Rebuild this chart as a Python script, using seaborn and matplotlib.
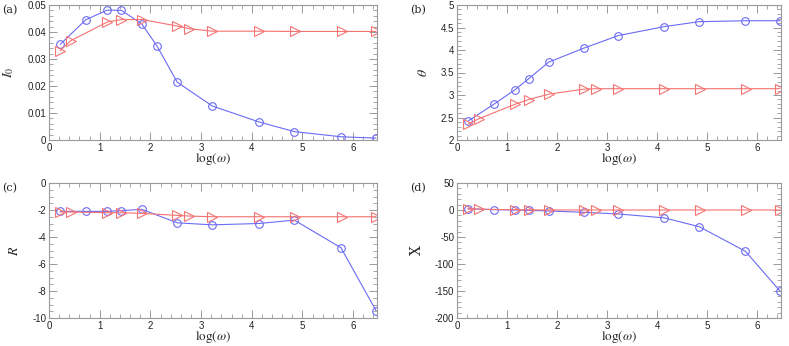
"""Four-panel plot of I0, theta, R and X against log(omega)."""

import matplotlib
matplotlib.use("Agg")
import matplotlib.pyplot as plt
import seaborn as sns
from matplotlib.ticker import AutoMinorLocator, FormatStrFormatter, MultipleLocator

# x positions (log omega)
x_blue = [0.22, 0.73, 1.15, 1.43, 1.83, 2.13, 2.53, 3.22, 4.14, 4.84, 5.76, 6.45]
x_blue_b = [0.22, 0.73, 1.15, 1.43, 1.83, 2.53, 3.22, 4.14, 4.84, 5.76, 6.45]
x_red = [0.22, 0.43, 1.15, 1.43, 1.84, 2.53, 2.77, 3.22, 4.14, 4.85, 5.77, 6.45]

# panel (a) I0
i0_blue = [0.0354, 0.0446, 0.0481, 0.0480, 0.0430, 0.0348, 0.0214, 0.0126,
           0.0067, 0.0031, 0.0012, 0.0007]
i0_red = [0.0331, 0.0368, 0.0437, 0.0446, 0.0446, 0.0422, 0.0412, 0.0403,
          0.0403, 0.0402, 0.0402, 0.0402]

# panel (b) theta
th_blue = [2.42, 2.79, 3.11, 3.36, 3.73, 4.04, 4.32, 4.52, 4.63, 4.65, 4.65]
th_red = [2.35, 2.47, 2.79, 2.90, 3.02, 3.13, 3.14, 3.14, 3.14, 3.14, 3.14, 3.14]

# panel (c) R
r_blue = [-2.1, -2.1, -2.1, -2.05, -1.95, -2.95, -3.1, -3.0, -2.75, -4.8, -9.45]
r_red = [-2.15, -2.15, -2.2, -2.2, -2.25, -2.4, -2.45, -2.5, -2.5, -2.5, -2.5, -2.5]

# panel (d) X
xx_blue = [2.4, 0.6, 0.0, -0.6, -1.8, -4.3, -7.3, -14.6, -31.0, -76.5, -150.0]
xx_red = [2.0, 1.5, 0.5, 0.3, 0.1, 0.0, 0.0, 0.0, 0.0, 0.0, 0.0, 0.0]

BLUE = "#6b6bf5"
RED = "#f57272"

sns.set_style("ticks")
plt.rcParams["mathtext.fontset"] = "stix"
plt.rcParams["font.family"] = ["Liberation Sans", "DejaVu Sans"]
plt.rcParams["axes.unicode_minus"] = False

fig = plt.figure(figsize=(7.89, 3.46), dpi=100)
W, H = 789, 346


def make_ax(l, r, t, b):
    return fig.add_axes([l / W, 1 - b / H, (r - l) / W, (b - t) / H])


panels = [
    (make_ax(49, 377, 5, 140), x_blue, i0_blue, i0_red, (0, 0.05), 0.01, 5, r"$I_0$", "(a)"),
    (make_ax(457, 781, 5, 140), x_blue_b, th_blue, th_red, (2, 5), 0.5, 5, r"$\theta$", "(b)"),
    (make_ax(49, 377, 183, 318), x_blue_b, r_blue, r_red, (-10, 0), 2, 4, r"$R$", "(c)"),
    (make_ax(457, 781, 183, 318), x_blue_b, xx_blue, xx_red, (-200, 50), 50, 5, "X", "(d)"),
]

for ax, xb, yb, yr, ylim, ymaj, ymin_div, ylab, tag in panels:
    sns.lineplot(x=xb, y=yb, ax=ax, color=BLUE, lw=0.8, marker="o", ms=5.5,
                 markerfacecolor="none", markeredgecolor=BLUE, markeredgewidth=0.8)
    sns.lineplot(x=x_red, y=yr, ax=ax, color=RED, lw=0.8, marker=">", ms=6.5,
                 markerfacecolor="none", markeredgecolor=RED, markeredgewidth=0.8)
    ax.set_xlim(0, 6.47)
    ax.set_ylim(*ylim)
    ax.xaxis.set_major_locator(MultipleLocator(1))
    ax.xaxis.set_minor_locator(AutoMinorLocator(5))
    ax.yaxis.set_major_locator(MultipleLocator(ymaj))
    ax.yaxis.set_minor_locator(AutoMinorLocator(ymin_div))
    ax.yaxis.set_major_formatter(FormatStrFormatter("%g"))
    ax.tick_params(which="both", direction="in", top=True, right=True,
                   color="#999999", labelsize=7, labelcolor="#222222", pad=2)
    ax.tick_params(which="major", length=6, width=0.7)
    ax.tick_params(which="minor", length=3, width=0.6)
    for s in ax.spines.values():
        s.set_color("#999999")
        s.set_linewidth(0.8)
    ax.set_xlabel(r"$\log(\omega)$", fontsize=9.5, labelpad=-1)
    ax.set_ylabel(ylab, fontsize=10, family="serif" if ylab == "X" else None, labelpad=8)
    pos = ax.get_position()
    fig.text(pos.x0 - 47 / W, pos.y1, tag, fontsize=8, family="serif",
             va="top", ha="left")

fig.savefig("out.png", dpi=100)
plt.close(fig)
